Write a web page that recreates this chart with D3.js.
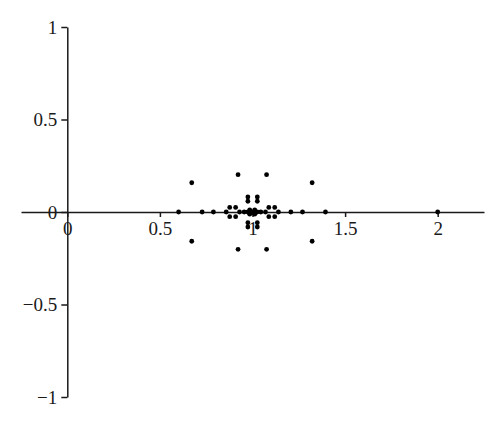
<!DOCTYPE html>
<html>
<head>
<meta charset="utf-8">
<script src="https://cdn.jsdelivr.net/npm/d3@7"></script>
<style>
  body { margin: 0; background: #fff; }
  svg { display: block; }
  .axis text { font-family: "Liberation Serif", "DejaVu Serif", serif; font-size: 19px; fill: #1a1a1a; }
  .axis path, .axis line { stroke: #1a1a1a; stroke-width: 1.5; }
</style>
</head>
<body>
<svg width="500" height="438"></svg>
<script>
// points on the real axis
var realX = [0.601, 0.728, 0.789, 0.858, 0.93, 0.955, 0.975, 0.99, 1.0, 1.01, 1.025, 1.045, 1.07, 1.14, 1.207, 1.270, 1.394, 2.0];

// conjugate pairs (x, +y) -> drawn at +y and -y
var pairX = [0.672, 1.322, 0.922, 1.076, 0.877, 0.909, 1.088, 1.12, 0.975, 1.026, 0.975, 1.026, 0.985, 1.012];
var pairY = [0.158, 0.158, 0.202, 0.202, 0.025, 0.025, 0.025, 0.025, 0.081, 0.081, 0.058, 0.058, 0.012, 0.012];

var xTicks = [0, 0.5, 1, 1.5, 2];
var yTicks = [-1, -0.5, 0, 0.5, 1];

var svg = d3.select("svg");

var x = d3.scaleLinear().domain([-0.25, 2.25]).range([21, 484]);
var y = d3.scaleLinear().domain([-1, 1]).range([397, 27]);

var points = [];
realX.forEach(function(v){ points.push({x: v, y: 0}); });
pairX.forEach(function(v, i){
  points.push({x: v, y: pairY[i]});
  points.push({x: v, y: -pairY[i]});
});

// x axis through y = 0
svg.append("g")
  .attr("class", "axis")
  .attr("transform", "translate(0," + y(0) + ")")
  .call(d3.axisBottom(x).tickValues(xTicks).tickSize(5).tickSizeOuter(0).tickPadding(5).tickFormat(d3.format("")));

// y axis through x = 0
svg.append("g")
  .attr("class", "axis")
  .attr("transform", "translate(" + x(0) + ",0)")
  .call(d3.axisLeft(y).tickValues(yTicks).tickSize(6).tickSizeOuter(0).tickPadding(4).tickFormat(d3.format("")));

svg.selectAll(".dot")
  .data(points)
  .enter().append("circle")
  .attr("class", "dot")
  .attr("cx", function(d){ return x(d.x); })
  .attr("cy", function(d){ return y(d.y); })
  .attr("r", 2.4)
  .attr("fill", "#000");
</script>
</body>
</html>
